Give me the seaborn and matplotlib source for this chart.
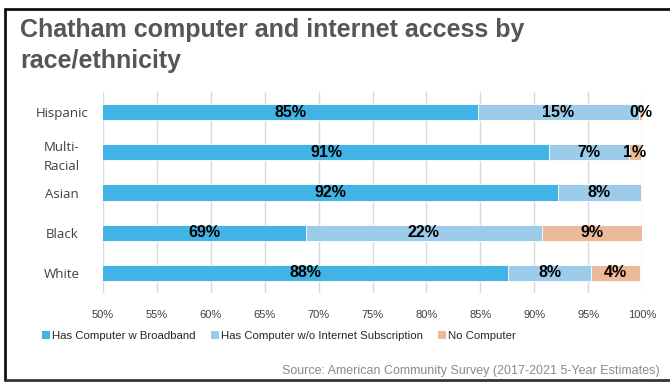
import matplotlib
matplotlib.use("Agg")
import matplotlib.pyplot as plt
from matplotlib.lines import Line2D
from matplotlib.patches import Patch
import seaborn as sns
import pandas as pd

categories = ["Hispanic", "Multi-\nRacial", "Asian", "Black", "White"]
broadband = [84.8, 91.4, 92.2, 68.8, 87.6]
no_internet = [14.9, 7.4, 7.7, 21.9, 7.7]
no_computer = [0.3, 1.1, 0.1, 9.3, 4.5]
series_names = ["Has Computer w Broadband",
                "Has Computer w/o Internet Subscription",
                "No Computer"]
colors = ["#41b4e5", "#9dcbea", "#ecb999"]
xticks = [50, 55, 60, 65, 70, 75, 80, 85, 90, 95, 100]
title = "Chatham computer and internet access by\nrace/ethnicity"
source = "Source: American Community Survey (2017-2021 5-Year Estimates)"

sns.set_style("white")
plt.rcParams["font.family"] = ["Liberation Sans", "DejaVu Sans"]

fig = plt.figure(figsize=(6.7, 3.82), dpi=100)
ax = fig.add_axes([103/670, 1-293/382, (642-103)/670, (293-92)/382])

df = pd.DataFrame({"cat": categories,
                   "b": broadband, "n": no_internet, "c": no_computer})
df["bn"] = df["b"] + df["n"]
df["bnc"] = df["bn"] + df["c"]

for col, colr in zip(["bnc", "bn", "b"], colors[::-1]):
    sns.barplot(data=df, y="cat", x=col, orient="h", color=colr,
                width=0.4, ax=ax, edgecolor="white", linewidth=0.6,
                saturation=1)

# labels
for i, row in df.iterrows():
    starts = [0, row["b"], row["bn"]]
    vals = [row["b"], row["n"], row["c"]]
    for s, v in zip(starts, vals):
        if v < 0.2:
            continue
        center = max(s, 50) + (s + v - max(s, 50)) / 2
        ax.text(center, i, f"{round(v):d}%", ha="center", va="center",
                fontsize=11.5, fontweight="bold", color="black")

ax.set_xlim(50, 100)
ax.set_ylim(4.5, -0.5)
ax.set_xticks(xticks)
ax.set_xticklabels([f"{t}%" for t in xticks], fontsize=8, color="#404040")
ax.tick_params(axis="x", length=0, pad=12)
ax.tick_params(axis="y", length=0, pad=14)
ax.set_yticks(range(len(categories)))
ax.set_yticklabels(categories, fontsize=9.5, color="#404040",
                   family=["Open Sans"], ha="center", linespacing=1.6)
for lab in ax.get_yticklabels():
    lab.set_x(-0.04)
ax.set_xlabel("")
ax.set_ylabel("")
ax.grid(axis="x", color="#d9d9d9", linewidth=1)
ax.set_axisbelow(True)
for sp in ax.spines.values():
    sp.set_visible(False)

# legend
handles = [Patch(facecolor=c, edgecolor="none") for c in colors]
leg = fig.legend(handles, series_names, loc="center left",
                 bbox_to_anchor=(32/670, 1-336/382), ncol=3, frameon=False,
                 handlelength=0.7, handleheight=0.7, handletextpad=0.2,
                 columnspacing=1.3, prop=dict(size=8.2))
for t in leg.get_texts():
    t.set_color("#262626")

fig.text(20/670, 1-18/382, title, ha="left", va="top", fontsize=18,
         fontweight="bold", color="#53565a", linespacing=1.35)
fig.text(660/670, 1-371/382, source, ha="right", va="center", fontsize=9,
         color="#8a8a8a")

# frame
fig.add_artist(Line2D([5/670, 1], [1-9/382, 1-9/382], color="#111111", lw=2,
                      transform=fig.transFigure))
fig.add_artist(Line2D([5/670, 5/670], [1-9/382, 1-380/382], color="#111111", lw=2,
                      transform=fig.transFigure))
fig.add_artist(Line2D([5/670, 1], [1-380/382, 1-380/382], color="#333333", lw=2,
                      transform=fig.transFigure))

fig.savefig("out.png", dpi=100)
